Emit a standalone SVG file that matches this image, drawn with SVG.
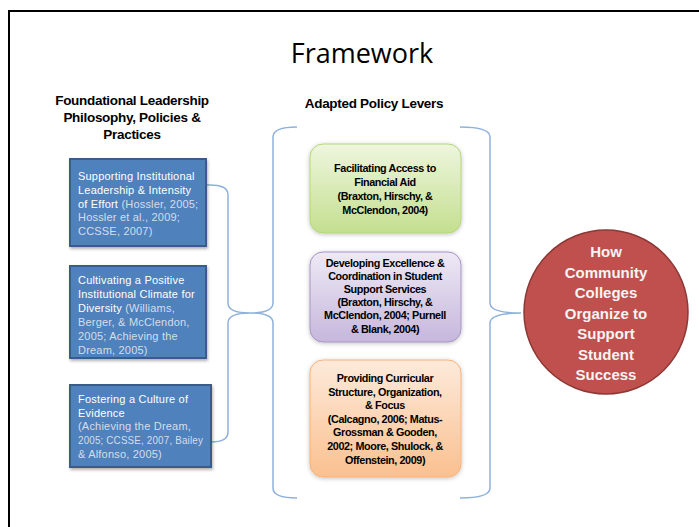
<svg xmlns="http://www.w3.org/2000/svg" width="699" height="527" viewBox="0 0 699 527">
  <defs>
    <linearGradient id="gGreen" x1="0" y1="0" x2="0" y2="1">
      <stop offset="0" stop-color="#eef6de"/>
      <stop offset="1" stop-color="#c4df8f"/>
    </linearGradient>
    <linearGradient id="gPurple" x1="0" y1="0" x2="0" y2="1">
      <stop offset="0" stop-color="#eee9f5"/>
      <stop offset="1" stop-color="#c6b7dc"/>
    </linearGradient>
    <linearGradient id="gOrange" x1="0" y1="0" x2="0" y2="1">
      <stop offset="0" stop-color="#fdeadb"/>
      <stop offset="1" stop-color="#fbc08f"/>
    </linearGradient>
    <filter id="shadow" x="-10%" y="-10%" width="120%" height="125%">
      <feDropShadow dx="1" dy="2" stdDeviation="1.5" flood-color="#000" flood-opacity="0.3"/>
    </filter>
    <filter id="glow" x="-10%" y="-10%" width="120%" height="125%">
      <feDropShadow dx="0" dy="1" stdDeviation="2" flood-color="#000" flood-opacity="0.25"/>
    </filter>
  </defs>
  <style>
    .frame { fill: #ffffff; stroke: #000000; stroke-width: 2; }
    .title { font-family: "Open Sans", "Liberation Sans", sans-serif; font-size: 27px; fill: #000000; text-anchor: middle; }
    .head { font-family: "Liberation Sans", Arial, sans-serif; font-weight: bold; font-size: 13.5px; fill: #000000; text-anchor: middle; letter-spacing: -0.3px; }
    .blue { fill: #4f81bd; stroke: #385d8a; stroke-width: 2; }
    .btxt { font-family: "Liberation Sans", Arial, sans-serif; font-size: 11px; fill: #ffffff; letter-spacing: 0.2px; }
    .cite { fill: #d6dde8; }
    .mtxt { font-family: "Liberation Sans", Arial, sans-serif; font-weight: bold; font-size: 10.8px; fill: #000000; text-anchor: middle; letter-spacing: -0.4px; }
    .ctxt { font-family: "Liberation Sans", Arial, sans-serif; font-weight: bold; font-size: 15px; fill: #f4f4f4; text-anchor: middle; }
    .brace { fill: none; stroke: #8fb2dc; stroke-width: 1.5; }
  </style>

  <rect class="frame" x="9" y="11" width="700" height="530"/>
  <text class="title" x="362" y="63">Framework</text>

  <text class="head" x="132" y="105">Foundational Leadership</text>
  <text class="head" x="132" y="122">Philosophy, Policies &amp;</text>
  <text class="head" x="132" y="139">Practices</text>
  <text class="head" x="374" y="108">Adapted Policy Levers</text>

  <!-- braces joining the columns -->
  <g id="connectors">
    <path class="brace" d="M207,185 Q228,184 228,195 L228,303 Q228,313 250,313 Q228,313 228,323 L228,432 Q228,442 211,442"/>
    <path class="brace" d="M297,127 Q273,127 273,137 L273,303 Q273,313 250,313 Q273,313 273,323 L273,488 Q273,498 297,498"/>
    <path class="brace" d="M460,127 Q490,127 490,137 L490,303 Q490,313 521,313 Q490,313 490,323 L490,488 Q490,498 460,498"/>
  </g>

  <g id="leadership">
    <rect class="blue" x="70" y="159" width="136" height="87" filter="url(#shadow)"/>
    <text class="btxt" x="78" y="180">Supporting Institutional</text>
    <text class="btxt" x="78" y="194">Leadership &amp; Intensity</text>
    <text class="btxt" x="78" y="207.5">of Effort <tspan class="cite">(Hossler, 2005;</tspan></text>
    <text class="btxt cite" x="78" y="221">Hossler et al., 2009;</text>
    <text class="btxt cite" x="78" y="235">CCSSE, 2007)</text>
  </g>

  <g id="diversity">
    <rect class="blue" x="70" y="266" width="136" height="92" filter="url(#shadow)"/>
    <text class="btxt" x="78" y="284">Cultivating a Positive</text>
    <text class="btxt" x="78" y="298">Institutional Climate for</text>
    <text class="btxt" x="78" y="312">Diversity <tspan class="cite">(Williams,</tspan></text>
    <text class="btxt cite" x="78" y="326">Berger, &amp; McClendon,</text>
    <text class="btxt cite" x="78" y="340">2005; Achieving the</text>
    <text class="btxt cite" x="78" y="354">Dream, 2005)</text>
  </g>

  <g id="evidence">
    <rect class="blue" x="70" y="385" width="141" height="82" filter="url(#shadow)"/>
    <text class="btxt" x="78" y="403">Fostering a Culture of</text>
    <text class="btxt" x="78" y="417">Evidence</text>
    <text class="btxt cite" x="78" y="430">(Achieving the Dream,</text>
    <text class="btxt cite" x="78" y="444" textLength="125" lengthAdjust="spacingAndGlyphs">2005; CCSSE, 2007, Bailey</text>
    <text class="btxt cite" x="78" y="458">&amp; Alfonso, 2005)</text>
  </g>

  <g id="financial-aid">
    <rect x="310" y="144" width="151" height="89" rx="13" fill="url(#gGreen)" stroke="#b4d67a" stroke-width="1" filter="url(#glow)"/>
    <text class="mtxt" x="385" y="172">Facilitating Access to</text>
    <text class="mtxt" x="385" y="186">Financial Aid</text>
    <text class="mtxt" x="385" y="200">(Braxton, Hirschy, &amp;</text>
    <text class="mtxt" x="385" y="214">McClendon, 2004)</text>
  </g>

  <g id="support-services">
    <rect x="310" y="252" width="151" height="90" rx="13" fill="url(#gPurple)" stroke="#a795c6" stroke-width="1" filter="url(#glow)"/>
    <text class="mtxt" x="385" y="267">Developing Excellence &amp;</text>
    <text class="mtxt" x="385" y="280">Coordination in Student</text>
    <text class="mtxt" x="385" y="293">Support Services</text>
    <text class="mtxt" x="385" y="306">(Braxton, Hirschy, &amp;</text>
    <text class="mtxt" x="385" y="319">McClendon, 2004; Purnell</text>
    <text class="mtxt" x="385" y="333">&amp; Blank, 2004)</text>
  </g>

  <g id="curricular-structure">
    <rect x="310" y="360" width="151" height="117" rx="13" fill="url(#gOrange)" stroke="#f7b27a" stroke-width="1" filter="url(#glow)"/>
    <text class="mtxt" x="385" y="382">Providing Curricular</text>
    <text class="mtxt" x="385" y="396">Structure, Organization,</text>
    <text class="mtxt" x="385" y="409">&amp; Focus</text>
    <text class="mtxt" x="385" y="423">(Calcagno, 2006; Matus-</text>
    <text class="mtxt" x="385" y="436">Grossman &amp; Gooden,</text>
    <text class="mtxt" x="385" y="450">2002; Moore, Shulock, &amp;</text>
    <text class="mtxt" x="385" y="464">Offenstein, 2009)</text>
  </g>

  <g id="outcome">
    <circle cx="606" cy="312" r="82" fill="#c0504d" stroke="#8c3836" stroke-width="1.5"/>
    <text class="ctxt" x="606" y="257">How</text>
    <text class="ctxt" x="606" y="277.5">Community</text>
    <text class="ctxt" x="606" y="298">Colleges</text>
    <text class="ctxt" x="606" y="318.5">Organize to</text>
    <text class="ctxt" x="606" y="339">Support</text>
    <text class="ctxt" x="606" y="359.5">Student</text>
    <text class="ctxt" x="606" y="380">Success</text>
  </g>
</svg>
